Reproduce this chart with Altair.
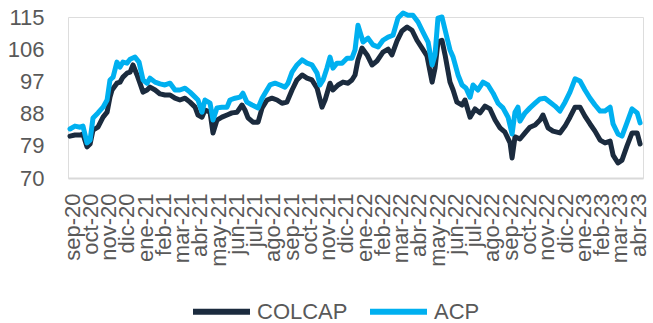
import json
import altair as alt
import pandas as pd

months = ["sep-20", "oct-20", "nov-20", "dic-20", "ene-21", "feb-21", "mar-21", "abr-21",
          "may-21", "jun-21", "jul-21", "ago-21", "sep-21", "oct-21", "nov-21", "dic-21",
          "ene-22", "feb-22", "mar-22", "abr-22", "may-22", "jun-22", "jul-22", "ago-22",
          "sep-22", "oct-22", "nov-22", "dic-22", "ene-23", "feb-23", "mar-23", "abr-23"]
y_ticks = [70, 79, 88, 97, 106, 115]

# time in months since sep-20 (label position) and index value
acp_t = [-0.11, 0.16, 0.44, 0.60, 0.82, 0.99, 1.15, 1.42, 1.70, 1.92, 2.08, 2.25, 2.46, 2.63, 2.79,
         3.01, 3.18, 3.45, 3.67, 3.89, 4.11, 4.27, 4.55, 4.82, 5.09, 5.37, 5.64, 5.91, 6.19, 6.46,
         6.74, 6.90, 7.12, 7.28, 7.56, 7.72, 7.94, 8.21, 8.49, 8.65, 8.93, 9.20, 9.36, 9.58, 9.86,
         10.19, 10.41, 10.57, 10.84, 11.12, 11.39, 11.66, 11.83, 12.05, 12.32, 12.60, 12.87, 13.14,
         13.42, 13.58, 13.75, 13.96, 14.13, 14.29, 14.51, 14.79, 15.06, 15.33, 15.50, 15.66, 15.94,
         16.21, 16.48, 16.76, 17.03, 17.31, 17.58, 17.85, 18.13, 18.40, 18.67, 18.95, 19.22, 19.50,
         19.72, 19.88, 20.04, 20.26, 20.54, 20.70, 20.87, 21.14, 21.36, 21.58, 21.80, 21.96, 22.23,
         22.51, 22.78, 23.06, 23.33, 23.60, 23.88, 24.10, 24.26, 24.42, 24.53, 24.81, 25.08, 25.36,
         25.63, 25.90, 26.18, 26.45, 26.72, 27.00, 27.27, 27.55, 27.82, 28.09, 28.37, 28.64, 28.92,
         29.19, 29.47, 29.63, 29.90, 30.12, 30.39, 30.67, 30.95, 31.11]
acp_v = [83.7, 84.5, 84.2, 84.5, 79.8, 80.6, 86.8, 88.2, 89.8, 91.8, 97.4, 98.2, 102.4, 101.0, 102.4,
         102.1, 103.2, 103.8, 102.4, 97.4, 96.5, 97.9, 96.8, 96.3, 96.0, 96.5, 94.6, 94.6, 95.1, 94.0,
         92.6, 91.8, 88.4, 91.8, 90.9, 86.2, 89.6, 89.8, 89.8, 91.8, 92.3, 92.6, 93.7, 91.2, 90.4,
         89.6, 92.3, 93.7, 96.0, 96.5, 96.0, 95.4, 96.5, 99.6, 101.6, 103.0, 102.1, 101.6,
         99.3, 96.0, 97.4, 100.7, 103.8, 100.7, 102.1, 102.1, 103.5, 103.5, 105.8, 112.7, 108.0,
         109.1, 107.2, 106.6, 108.5, 109.4, 109.9, 114.7, 116.1, 115.5, 115.5, 113.6, 110.8, 108.0,
         101.6, 104.4, 114.7, 115.0, 109.1, 105.8, 103.8, 98.8, 96.0, 95.1, 92.6, 96.0, 94.6,
         96.8, 96.0, 93.7, 90.9, 89.6, 87.0, 82.3, 88.4, 89.8, 85.9, 88.2, 89.6, 90.9,
         92.1, 92.3, 91.2, 90.1, 88.7, 91.2, 94.0, 97.7, 97.1, 94.6, 92.3, 90.4, 88.7,
         88.7, 89.8, 85.1, 82.3, 81.7, 85.4, 89.3, 88.2, 85.4]

col_t = [-0.11, 0.16, 0.44, 0.60, 0.82, 0.99, 1.15, 1.42, 1.70, 1.92, 2.08, 2.19, 2.46, 2.63, 2.79,
         3.01, 3.18, 3.34, 3.56, 3.72, 3.89, 4.11, 4.27, 4.55, 4.82, 5.09, 5.37, 5.64, 5.91, 6.19,
         6.46, 6.74, 6.90, 7.12, 7.28, 7.56, 7.72, 7.94, 8.21, 8.49, 8.76, 9.04, 9.31, 9.47, 9.64,
         9.91, 10.19, 10.41, 10.68, 10.95, 11.23, 11.50, 11.77, 12.05, 12.32, 12.60, 12.87, 13.14,
         13.42, 13.69, 13.86, 14.13, 14.29, 14.57, 14.84, 15.12, 15.33, 15.50, 15.66, 15.88, 16.16,
         16.43, 16.70, 17.03, 17.31, 17.52, 17.80, 18.07, 18.35, 18.62, 18.89, 19.17, 19.44, 19.72,
         19.88, 20.04, 20.26, 20.43, 20.70, 20.87, 21.08, 21.36, 21.52, 21.80, 22.07, 22.34, 22.62,
         22.89, 23.17, 23.44, 23.71, 23.99, 24.10, 24.26, 24.53, 24.81, 25.08, 25.36, 25.63, 25.79,
         26.07, 26.34, 26.72, 27.00, 27.27, 27.55, 27.82, 28.09, 28.37, 28.64, 28.92, 29.19, 29.47,
         29.63, 29.90, 30.12, 30.39, 30.67, 30.95, 31.11]
col_v = [81.7, 82.0, 82.0, 82.3, 78.7, 79.5, 83.4, 84.2, 87.0, 88.4, 92.6, 94.6, 96.5, 96.8, 98.2,
         99.3, 99.6, 101.6, 98.8, 96.5, 94.0, 94.6, 95.4, 94.6, 93.5, 93.2, 93.2, 92.3, 91.8, 92.3,
         91.2, 89.8, 87.6, 87.0, 89.0, 88.4, 82.6, 86.2, 87.0, 87.6, 88.2, 88.4, 90.4, 89.0, 86.8,
         85.6, 85.6, 89.6, 91.8, 92.3, 91.8, 90.9, 91.2, 94.6, 97.4, 98.8, 97.9, 97.4,
         95.1, 89.8, 91.8, 96.5, 94.6, 96.0, 96.8, 96.5, 97.4, 98.8, 103.0, 106.3, 104.4,
         101.6, 102.7, 105.2, 106.0, 104.4, 108.3, 111.1, 112.2, 111.3, 108.5, 106.3, 104.1, 96.8,
         100.7, 108.0, 108.5, 104.4, 96.8, 94.6, 91.2, 90.4, 91.8, 87.0, 89.3, 88.2, 90.1,
         89.3, 86.2, 84.0, 82.8, 79.8, 75.6, 81.5, 80.9, 82.6, 84.2, 84.8, 86.2, 87.6,
         84.0, 83.1, 82.6, 84.5, 87.0, 89.8, 89.8, 87.3, 85.1, 83.1, 80.6, 79.8, 80.3,
         76.4, 74.2, 75.0, 78.9, 82.6, 82.6, 79.5]

series = ["COLCAP", "ACP"]
colors = ["#1b2b3e", "#00b0f0"]

df_col = pd.DataFrame({"t": col_t, "v": col_v, "serie": "COLCAP"})
df_acp = pd.DataFrame({"t": acp_t, "v": acp_v, "serie": "ACP"})

label_expr = json.dumps(months) + "[datum.value]"

x_enc = alt.X(
    "t:Q",
    scale=alt.Scale(domain=[-0.22, 31.27], nice=False, zero=False),
    axis=alt.Axis(
        values=list(range(len(months))), labelExpr=label_expr, title=None,
        labelAngle=270, labelFontSize=22, labelColor="#595959", labelPadding=15,
        ticks=False, grid=False, domainColor="#d9d9d9", domainWidth=2,
        labelOverlap=False, labelBound=False, labelFlush=False,
    ),
)
y_enc = alt.Y(
    "v:Q",
    scale=alt.Scale(domain=[70, 115], nice=False, zero=False),
    axis=alt.Axis(
        values=y_ticks, title=None, labelFontSize=22, labelColor="#595959",
        labelPadding=24, ticks=False, grid=False, domain=False,
    ),
)
color_enc = alt.Color(
    "serie:N",
    scale=alt.Scale(domain=series, range=colors),
    legend=alt.Legend(
        title=None, orient="none", direction="horizontal", legendX=122, legendY=263,
        symbolType="stroke", symbolSize=3249, symbolStrokeWidth=6,
        labelFontSize=22, labelColor="#595959", columnPadding=10, labelOffset=4,
        padding=0,
    ),
)

line_col = alt.Chart(df_col).mark_line(strokeWidth=5, strokeCap="round", strokeJoin="round").encode(
    x=x_enc, y=y_enc, color=color_enc, order="t:Q"
)
line_acp = alt.Chart(df_acp).mark_line(strokeWidth=5, strokeCap="round", strokeJoin="round").encode(
    x=x_enc, y=y_enc, color=color_enc, order="t:Q"
)

chart = alt.layer(line_col, line_acp).properties(
    width=575, height=161,
    autosize=alt.AutoSizeParams(type="none"),
    padding={"left": 68, "top": 17, "right": 10, "bottom": 145},
).configure_view(stroke=None).configure(font="Liberation Sans")

chart.save("out.html", embed_options={"renderer": "svg", "actions": False})
